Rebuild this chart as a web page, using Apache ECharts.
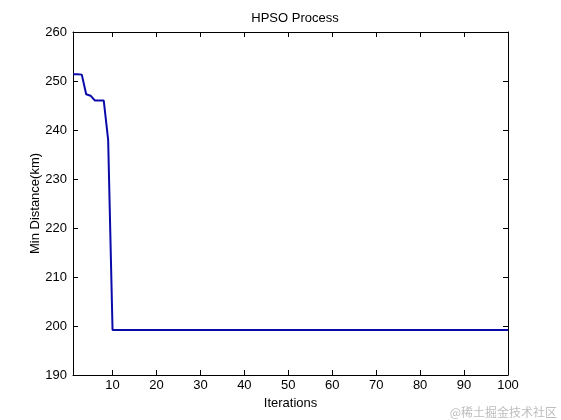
<!DOCTYPE html>
<html>
<head>
<meta charset="utf-8">
<script src="https://cdn.jsdelivr.net/npm/echarts@6/dist/echarts.min.js"></script>
<style>html,body{margin:0;padding:0;background:#fff}#c{width:561px;height:420px}</style>
</head>
<body>
<div id="c"></div>
<script>
var iterations = [1, 2, 3, 4, 5, 6, 7, 8, 9, 10, 100];
var minDistance = [251.4, 251.4, 251.3, 247.3, 247.0, 246.0, 246.0, 246.0, 238.0, 199.2, 199.2];
var xTicks = [10, 20, 30, 40, 50, 60, 70, 80, 90, 100];
var yTicks = [190, 200, 210, 220, 230, 240, 250, 260];

var chart = echarts.init(document.getElementById('c'), null, {renderer: 'canvas'});
var font = 'Arial, "Liberation Sans", sans-serif';
var axisCommon = {
  axisLine: {show: true, onZero: false, lineStyle: {color: '#000', width: 1}},
  axisTick: {show: true, inside: true, length: 5, lineStyle: {color: '#000'}},
  splitLine: {show: false}
};
var data = iterations.map(function (x, i) { return [x, minDistance[i]]; });
chart.setOption({
  backgroundColor: '#fff',
  animation: false,
  title: {
    text: 'HPSO Process', left: 290, top: 7, textAlign: 'center',
    textStyle: {fontFamily: font, fontSize: 13, fontWeight: 'normal', color: '#000'}
  },
  grid: {left: 73, right: 53, top: 32, bottom: 45},
  xAxis: [
    Object.assign({}, axisCommon, {
      type: 'value', min: 1, max: 100, position: 'bottom',
      name: 'Iterations', nameLocation: 'middle', nameGap: 22, nameMoveOverlap: false,
      nameTextStyle: {fontFamily: font, fontSize: 13, color: '#000'},
      axisTick: {show: true, inside: true, length: 5, lineStyle: {color: '#000'}, customValues: xTicks},
      axisLabel: {fontFamily: font, fontSize: 13, color: '#000', margin: 4, customValues: xTicks}
    }),
    Object.assign({}, axisCommon, {
      type: 'value', min: 1, max: 100, position: 'top',
      axisTick: {show: true, inside: true, length: 5, lineStyle: {color: '#000'}, customValues: xTicks},
      axisLabel: {show: false}
    })
  ],
  yAxis: [
    Object.assign({}, axisCommon, {
      type: 'value', min: 190, max: 260, interval: 10, position: 'left',
      name: 'Min Distance(km)', nameLocation: 'middle', nameGap: 31, nameMoveOverlap: false,
      nameTextStyle: {fontFamily: font, fontSize: 13, color: '#000'},
      axisLabel: {fontFamily: font, fontSize: 13, color: '#000', margin: 6}
    }),
    Object.assign({}, axisCommon, {
      type: 'value', min: 190, max: 260, interval: 10, position: 'right',
      axisLabel: {show: false}
    })
  ],
  series: [{
    type: 'line', xAxisIndex: 0, yAxisIndex: 0,
    data: data, showSymbol: false, symbol: 'none',
    lineStyle: {color: '#0a0aa8', width: 2}
  }],
  graphic: [{
    type: 'text', right: 4, bottom: 2,
    style: {text: '@稀土掘金技术社区', fill: '#bdbdbd', fontSize: 12, fontFamily: '"Noto Sans CJK SC", sans-serif'}
  }]
});
</script>
</body>
</html>
